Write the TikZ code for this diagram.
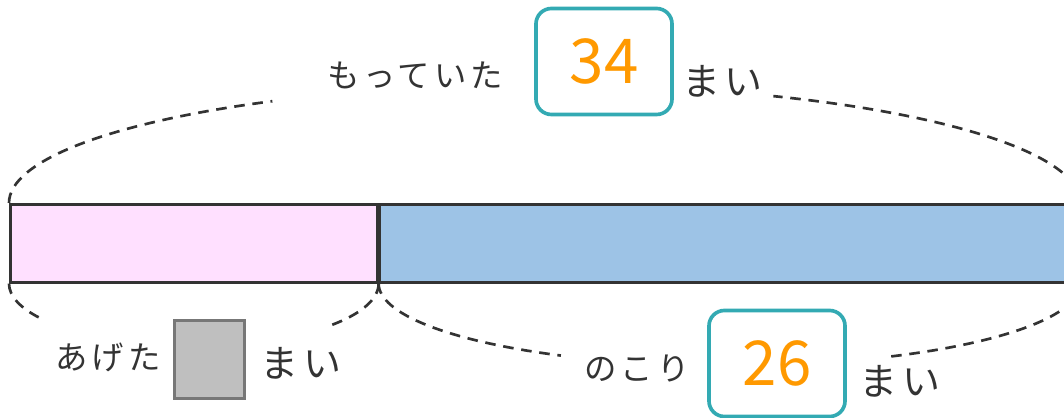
\documentclass[tikz,border=0pt]{standalone}
\usepackage{fontspec}
\setmainfont{Noto Sans CJK JP}
\newfontfamily\jpspaced[LetterSpace=12]{Noto Sans CJK JP}
\usetikzlibrary{positioning}

\definecolor{inkgray}{HTML}{333333}
\definecolor{giftpink}{HTML}{FFE0FF}
\definecolor{restblue}{HTML}{9DC3E6}
\definecolor{boxteal}{HTML}{33AAB3}
\definecolor{numorange}{HTML}{FF9900}
\definecolor{blankgray}{HTML}{BFBFBF}
\definecolor{blankedge}{HTML}{777777}

\tikzset{
  barpart/.style={draw=inkgray, line width=1.8pt, minimum height=1.95cm, inner sep=0pt},
  brace/.style={draw=inkgray, line width=1.9pt, dash pattern=on 7.5pt off 5.5pt},
  word/.style={text=inkgray, font=\fontsize{23}{26}\selectfont\jpspaced, inner sep=0pt},
  unit/.style={text=inkgray, font=\fontsize{27}{30}\selectfont\jpspaced, inner sep=0pt},
  answer/.style={draw=boxteal, line width=2.6pt, rounded corners=11pt, text=numorange,
    font=\fontsize{44}{48}\selectfont, minimum width=3.4cm, minimum height=2.65cm},
  blank/.style={draw=blankedge, fill=blankgray, line width=2.4pt, minimum width=1.75cm, minimum height=1.95cm}
}

\begin{document}
\begin{tikzpicture}[x=0.025cm, y=0.025cm]
  \useasboundingbox (0,0) rectangle (1064,418);
  \clip (0,0) rectangle (1064,418);

  % tape
  \node[barpart, fill=giftpink, minimum width=9.175cm, anchor=north west] (given) at (9,215) {};
  \node[barpart, fill=restblue, minimum width=17.475cm, anchor=west] (rest) at (given.east) {};

  % braces
  \draw[brace] (given.north west) arc[start angle=180, end angle=120.4, x radius=13.325cm, y radius=2.95cm];
  \draw[brace] (rest.north east) arc[start angle=0, end angle=64.9, x radius=13.325cm, y radius=2.95cm];
  \draw[brace] (given.south west) arc[start angle=180, end angle=213.8, x radius=4.5875cm, y radius=1.55cm];
  \draw[brace] (given.south east) arc[start angle=0, end angle=-43.8, x radius=4.5875cm, y radius=1.55cm];
  \draw[brace] (rest.south west) arc[start angle=180, end angle=241.4, x radius=8.7375cm, y radius=2.05cm];
  \draw[brace] (rest.south east) arc[start angle=0, end angle=-62.9, x radius=8.7375cm, y radius=2.05cm];

  % top label
  \node[word] (had) at (415,343) {もっていた};
  \node[answer] (total) at (604,356.5) {34};
  \node[unit, right=0.2cm of total, yshift=-0.5cm] (totalunit) {まい};

  % bottom labels
  \node[word] (gave) at (108,61) {あげた};
  \node[blank] (gaveblank) at (209.5,58.5) {};
  \node[unit] (gaveunit) at (301,55) {まい};
  \node[word] (kept) at (637,49) {のこり};
  \node[answer] (remain) at (777,54.5) {26};
  \node[unit] (remainunit) at (900,36.5) {まい};
\end{tikzpicture}
\end{document}
